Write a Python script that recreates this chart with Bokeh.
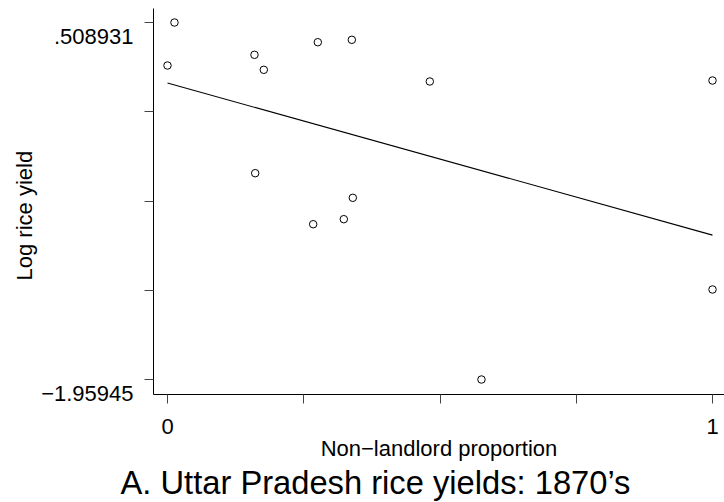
import numpy as np
from bokeh.plotting import figure
from bokeh.models import Range1d, FixedTicker, Title, LinearAxis
from bokeh.embed import file_html
from bokeh.resources import INLINE

# ---- data ----
non_landlord = [0.0, 0.0128, 0.1596, 0.1767, 0.1609, 0.2758, 0.3382,
                0.4813, 0.3400, 0.2673, 0.3235, 0.5761, 1.0, 1.0]
log_yield = [0.2116, 0.508931, 0.2856, 0.1819, -0.5330, 0.3727, 0.3893,
             0.1010, -0.7032, -0.8857, -0.8511, -1.95945, 0.1079, -1.3371]

x_ticks = [0.0, 0.25, 0.5, 0.75, 1.0]
x_tick_labels = ["0", "", "", "", "1"]
y_ticks = [0.508931, -0.108165, -0.72526, -1.342355, -1.95945]
y_tick_labels = [".508931", "", "", "", "\u22121.95945"]

title_text = "A. Uttar Pradesh rice yields: 1870\u2019s"
x_title = "Non\u2212landlord proportion"
y_title = "Log rice yield"

FONT = "Liberation Sans"

# ---- linear fit (OLS) ----
xa = np.array(non_landlord)
ya = np.array(log_yield)
slope, intercept = np.polyfit(xa, ya, 1)
fit_x = [float(xa.min()), float(xa.max())]
fit_y = [float(intercept + slope * v) for v in fit_x]

W, H = 724, 502
y0, y1 = -2.06316, 0.605731
p = figure(width=W, height=H, output_backend="svg", toolbar_location=None,
           min_border_left=153, min_border_right=0, min_border_top=8,
           min_border_bottom=108,
           x_range=Range1d(-0.025688, 1.022018),
           y_range=Range1d(y0, y1))
p.outline_line_color = None
p.xgrid.visible = False
p.ygrid.visible = False
p.background_fill_color = "white"
p.border_fill_color = "white"

p.line(fit_x, fit_y, line_color="black", line_width=1.1)
p.scatter(non_landlord, log_yield, marker="circle", size=7.5,
          fill_color=None, line_color="black", line_width=1)

for ax, ticks in ((p.xaxis[0], x_ticks), (p.yaxis[0], y_ticks)):
    ax.ticker = FixedTicker(ticks=ticks)
    ax.axis_line_color = "black"
    ax.axis_line_width = 1
    ax.major_tick_line_color = "#444444"
    ax.major_tick_line_width = 1
    ax.major_tick_out = 9
    ax.major_tick_in = 0
    ax.minor_tick_line_color = None
    ax.major_label_text_font = FONT
    ax.major_label_text_font_size = "22px"
    ax.major_label_text_color = "black"

p.xaxis.major_label_overrides = dict(zip(x_ticks, x_tick_labels))
p.xaxis.major_label_standoff = 15

# y axis: ticks only; the labels (which in the reference hang just below
# their ticks) are carried by a second, line-less axis
p.yaxis.major_label_overrides = {t: "" for t in y_ticks}
p.yaxis.major_label_standoff = 0

frame_h = H - 8 - 108
px_per_unit = frame_h / (y1 - y0)
drop = 13.5 / px_per_unit
lab_ticks = [t - drop for t, lab in zip(y_ticks, y_tick_labels) if lab]
lab_texts = [lab for lab in y_tick_labels if lab]
lab_axis = LinearAxis(ticker=FixedTicker(ticks=lab_ticks),
                      major_label_overrides=dict(zip(lab_ticks, lab_texts)),
                      axis_line_color=None, major_tick_line_color=None,
                      minor_tick_line_color=None, major_tick_out=0,
                      major_tick_in=0, major_label_standoff=11,
                      major_label_text_font=FONT,
                      major_label_text_font_size="22px",
                      major_label_text_color="black")
p.add_layout(lab_axis, "left")

p.xaxis.axis_label = x_title
p.xaxis.axis_label_text_font = FONT
p.xaxis.axis_label_text_font_size = "22px"
p.xaxis.axis_label_text_font_style = "normal"
p.xaxis.axis_label_text_color = "black"
p.xaxis.axis_label_standoff = -1

p.add_layout(Title(text=y_title, align="left", offset=114, standoff=4,
                   text_font=FONT, text_font_size="22px",
                   text_font_style="normal", text_color="black"), "left")

p.add_layout(Title(text=title_text, align="left", offset=-33, standoff=-3,
                   text_font=FONT, text_font_size="32.7px",
                   text_font_style="normal", text_color="black"), "below")

open("out.html", "w").write(file_html(p, INLINE))
